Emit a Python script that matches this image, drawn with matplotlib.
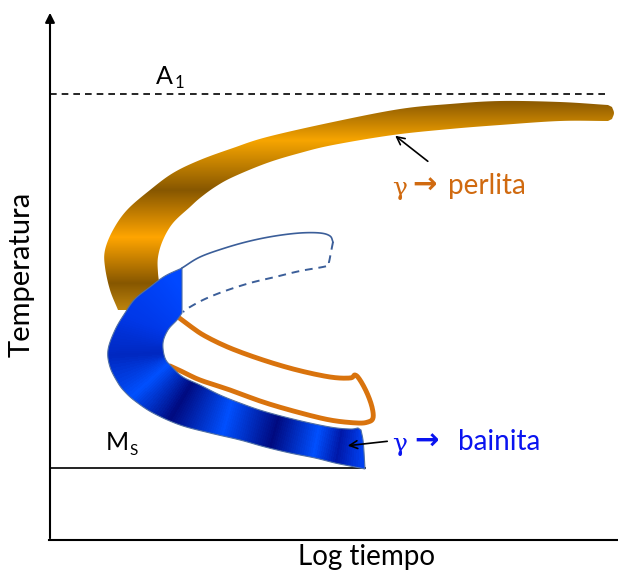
import matplotlib

matplotlib.use('Agg')
import matplotlib.pyplot as plt
import numpy as np
from matplotlib.patches import Polygon
from matplotlib.colors import to_rgb

# esquema TTT: coordenadas en px de la figura (y hacia abajo)
W, H = 618, 571
FONT = ['Lato', 'DejaVu Sans']

# banda perlita (borde exterior de derecha a abajo, borde interior igual)
PERL_OUT_X = [608, 560, 500, 450, 400, 333, 267, 233, 200, 173, 150, 127, 113, 105, 105, 110, 118]
PERL_OUT_Y = [105, 102, 101, 104, 109, 122, 137, 148, 160, 173, 190, 210, 230, 250, 267, 290, 310]
PERL_IN_X = [608, 560, 500, 450, 393, 333, 300, 267, 233, 215, 200, 190, 173, 163, 158, 158, 160, 160]
PERL_IN_Y = [121, 121, 125, 129, 135, 145, 153, 163, 177, 187, 198, 207, 223, 240, 257, 273, 290, 310]
PERL_CAP_X = [612, 614, 612]
PERL_CAP_Y = [119, 113, 107]
PERL_STOPS = [95, 103, 140, 190, 237, 283, 315]
PERL_COLORS = ['#8a5800', '#8f5c02', '#f7a500', '#875700', '#ffa500', '#875700', '#c88d10']

# banda bainita
BAIN_OUT_X = [182, 165, 150, 135, 125, 115, 108, 110, 118, 125, 135, 153, 180, 210, 240, 265, 290, 315, 335, 350, 365]
BAIN_OUT_Y = [268, 276, 287, 299, 313, 330, 350, 367, 383, 392, 401, 413, 425, 433, 440, 447, 453, 458, 463, 466, 469]
BAIN_IN_X = [182, 177, 168, 163, 165, 172, 183, 200, 220, 240, 263, 297, 330, 350, 358]
BAIN_IN_Y = [313, 320, 330, 343, 358, 367, 377, 385, 395, 403, 411, 420, 427, 429, 428]
BAIN_CAP_X = [364, 363, 361]
BAIN_CAP_Y = [452, 440, 430]
BAIN_STOPS = [0.0, 0.15, 0.24, 0.32, 0.43, 0.58, 0.73, 0.86, 0.93, 1.0]
BAIN_COLORS = ['#0048ff', '#0038e8', '#0028c0', '#0050ff', '#000a80', '#0050ff',
               '#000a80', '#0050ff', '#0018a8', '#0040f0']

# fin de perlita (contorno naranja)
PERL_END_X = [178, 190, 205, 230, 263, 297, 330, 350, 355, 360, 367, 372, 373, 368, 357, 330, 297, 263, 230, 200, 183, 170]
PERL_END_Y = [317, 326, 336, 348, 360, 370, 377, 378, 375, 380, 393, 407, 418, 422, 423, 420, 412, 402, 390, 380, 372, 366]

# contorno discontinuo de bainita
BAIN_TOP_X = [182, 200, 225, 250, 275, 300, 320, 330, 333]
BAIN_TOP_Y = [268, 257, 248, 241, 236, 233, 233, 236, 242]
BAIN_DASH_X = [333, 331, 329, 327, 300, 275, 250, 225, 205, 190, 183]
BAIN_DASH_Y = [242, 252, 262, 266, 271, 277, 283, 291, 299, 307, 312]

A1_Y = 94
MS_Y = 468
MS_END = 365


def smooth(x, y, k=10):
    # Catmull-Rom por los puntos dados
    p = np.column_stack([x, y]).astype(float)
    p = np.vstack([2 * p[0] - p[1], p, 2 * p[-1] - p[-2]])
    out = []
    t = np.linspace(0, 1, k, endpoint=False)[:, None]
    for i in range(1, len(p) - 2):
        p0, p1, p2, p3 = p[i - 1], p[i], p[i + 1], p[i + 2]
        out.append(0.5 * (2 * p1 + (-p0 + p2) * t + (2 * p0 - 5 * p1 + 4 * p2 - p3) * t ** 2
                          + (-p0 + 3 * p1 - 3 * p2 + p3) * t ** 3))
    out.append(p[-2][None, :])
    q = np.vstack(out)
    return q[:, 0], q[:, 1]


def resample(x, y, n):
    x = np.asarray(x, float)
    y = np.asarray(y, float)
    s = np.r_[0, np.cumsum(np.hypot(np.diff(x), np.diff(y)))]
    u = np.linspace(0, s[-1], n)
    return np.interp(u, s, x), np.interp(u, s, y)


def band(ox, oy, ix, iy, cx, cy):
    xs = list(ox) + list(cx) + list(ix)[::-1]
    ys = list(oy) + list(cy) + list(iy)[::-1]
    return np.column_stack([xs, ys])


def colors_at(t, stops, colors):
    rgb = np.array([to_rgb(c) for c in colors])
    return np.stack([np.interp(t, stops, rgb[:, k]) for k in range(3)], axis=-1)


def gradient_fill(ax, poly, field, stops, colors, step, z, edge='none'):
    x0, y0 = np.floor(poly.min(axis=0)) - 2
    x1, y1 = np.ceil(poly.max(axis=0)) + 2
    X, Y = np.meshgrid(np.arange(x0, x1, step), np.arange(y0, y1, step))
    img = colors_at(field(X, Y), stops, colors)
    im = ax.imshow(img, extent=(x0, x1, y1, y0), origin='upper',
                   interpolation='bilinear', aspect='auto', zorder=z)
    patch = Polygon(poly, closed=True, facecolor='none', edgecolor=edge, lw=0.8, zorder=z + 0.1)
    ax.add_patch(patch)
    im.set_clip_path(patch)


fig = plt.figure(figsize=(W / 100, H / 100), dpi=100)
ax = fig.add_axes([0, 0, 1, 1])

# banda perlita, degradado vertical
pox, poy = smooth(PERL_OUT_X, PERL_OUT_Y)
pix, piy = smooth(PERL_IN_X, PERL_IN_Y)
perl_poly = band(pox, poy, pix, piy, [], [])
perl_poly = np.vstack([perl_poly, np.column_stack(smooth(PERL_CAP_X, PERL_CAP_Y, 4))])
gradient_fill(ax, perl_poly, lambda X, Y: Y, PERL_STOPS, PERL_COLORS, 0.5, 2)

# contorno fin de perlita
ex, ey = smooth(PERL_END_X, PERL_END_Y)
ax.plot(ex, ey, color='#d9730d', lw=3.5, solid_capstyle='round',
        solid_joinstyle='round', zorder=3)

# banda bainita, degradado a lo largo de la banda
box, boy = smooth(BAIN_OUT_X, BAIN_OUT_Y)
bix, biy = smooth(BAIN_IN_X, BAIN_IN_Y)
ox, oy = resample(box, boy, 160)
ix, iy = resample(bix, biy, 160)
mx, my = (ox + ix) / 2, (oy + iy) / 2
sc = np.r_[0, np.cumsum(np.hypot(np.diff(mx), np.diff(my)))]
sc = sc / sc[-1]


def along(X, Y):
    d = (X[..., None] - mx) ** 2 + (Y[..., None] - my) ** 2
    return sc[np.argmin(d, axis=-1)]


bain_poly = band(box, boy, bix, biy, *smooth(BAIN_CAP_X, BAIN_CAP_Y, 4))
gradient_fill(ax, bain_poly, along, BAIN_STOPS, BAIN_COLORS, 1.0, 4, edge='#4f6fa5')

# contorno discontinuo
tx, ty = smooth(BAIN_TOP_X, BAIN_TOP_Y)
dx, dy = smooth(BAIN_DASH_X, BAIN_DASH_Y)
ax.plot(tx, ty, color='#3b5e99', lw=1.2, zorder=5)
ax.plot(dx, dy, color='#3b5e99', lw=1.4, ls=(0, (4, 3)), zorder=5)

# ejes
ax.annotate('', xy=(50, 10), xytext=(50, 541),
            arrowprops=dict(arrowstyle='-|>', color='black', lw=1.5, mutation_scale=14))
ax.plot([49, W], [540, 540], color='black', lw=1.5)
ax.plot([50, 610], [A1_Y, A1_Y], color='black', lw=1.2, ls=(0, (4, 3)))
ax.plot([50, MS_END], [MS_Y, MS_Y], color='#222222', lw=1.4)

# textos
ax.text(22, 274, 'Temperatura', rotation=90, ha='center', va='center', fontsize=21, family=FONT)
ax.text(366, 557, 'Log tiempo', ha='center', va='center', fontsize=20, family=FONT)
ax.text(156, 76, 'A', ha='left', va='center', fontsize=18, family=FONT)
ax.text(175, 83, '1', ha='left', va='center', fontsize=12, family=FONT)
ax.text(106, 443, 'M', ha='left', va='center', fontsize=18, family=FONT)
ax.text(129, 451, 'S', ha='left', va='center', fontsize=11, family=FONT)

orange = '#d06a10'
blue = '#0a14f0'
ax.text(392, 188, 'γ', ha='left', va='center', fontsize=18, color=orange, family=['DejaVu Serif'])
ax.text(412, 186, '→', ha='left', va='center', fontsize=21, color=orange, weight='bold', family=['DejaVu Sans'])
ax.text(448, 186, 'perlita', ha='left', va='center', fontsize=20, color=orange, family=FONT)
ax.text(392, 444, 'γ', ha='left', va='center', fontsize=18, color=blue, family=['DejaVu Serif'])
ax.text(414, 442, '→', ha='left', va='center', fontsize=21, color=blue, weight='bold', family=['DejaVu Sans'])
ax.text(458, 442, 'bainita', ha='left', va='center', fontsize=20, color=blue, family=FONT)

ax.annotate('', xy=(393, 134), xytext=(430, 163),
            arrowprops=dict(arrowstyle='->', color='black', lw=1.2, mutation_scale=14))
ax.annotate('', xy=(345, 446), xytext=(390, 441),
            arrowprops=dict(arrowstyle='->', color='black', lw=1.2, mutation_scale=14), zorder=6)

ax.set_xlim(0, W)
ax.set_ylim(H, 0)
ax.axis('off')
fig.savefig('out.png', dpi=100)
